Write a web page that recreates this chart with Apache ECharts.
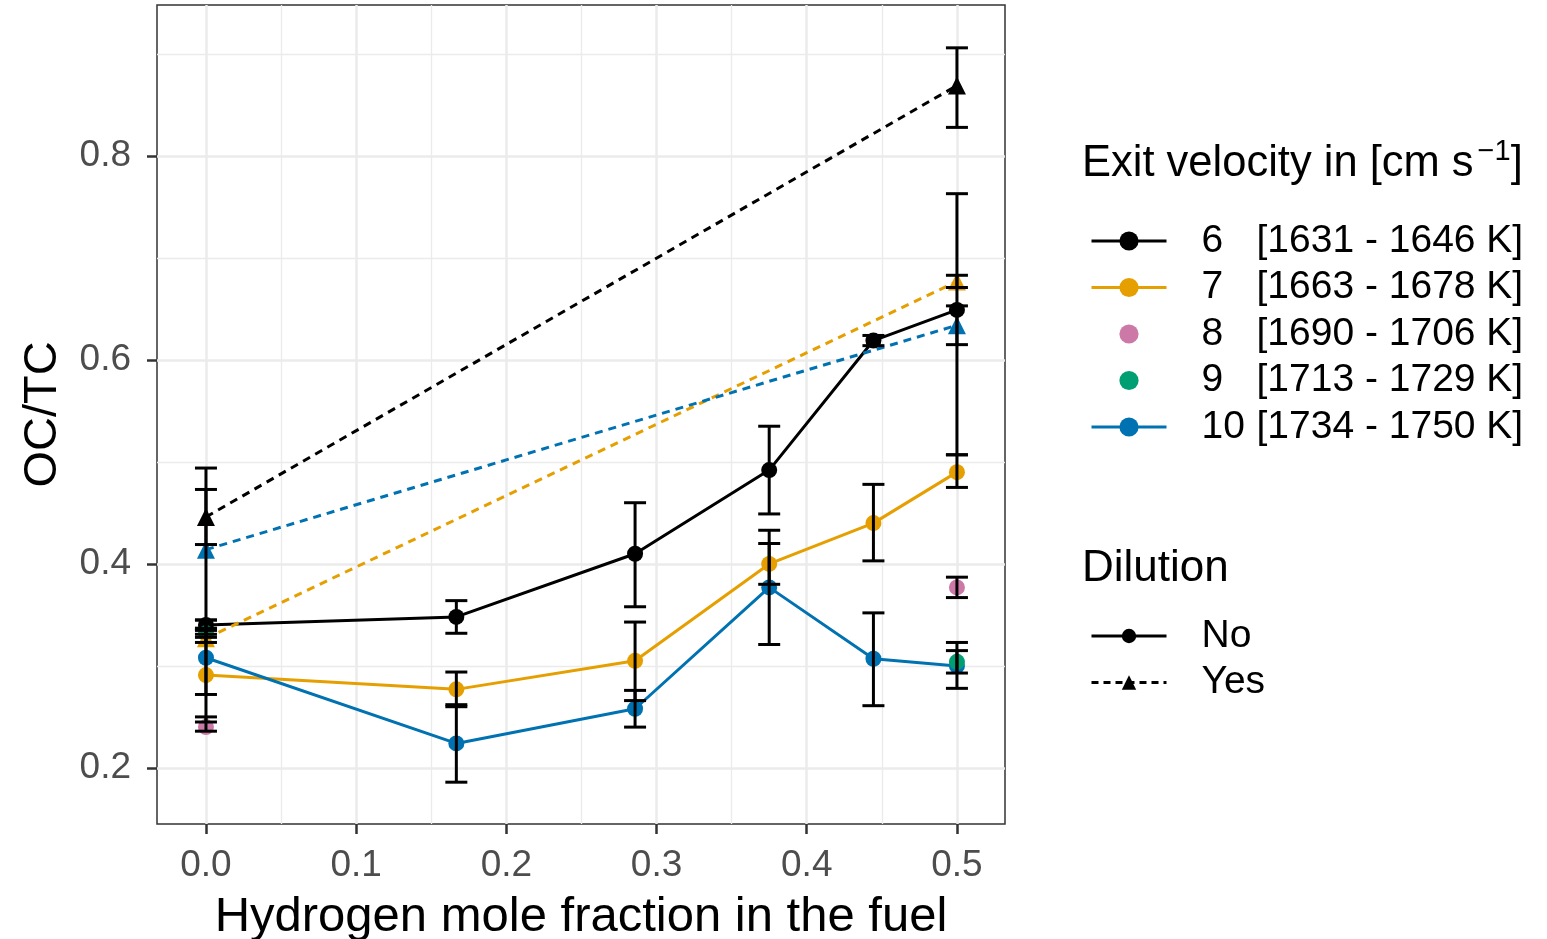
<!DOCTYPE html>
<html><head><meta charset="utf-8">
<script src="https://cdn.jsdelivr.net/npm/echarts@6/dist/echarts.min.js"></script>
<style>html,body{margin:0;padding:0;background:#fff}#c{width:1547px;height:939px}</style>
</head><body><div id="c"></div>
<script>
// ---- data ----
const xValues = [0, 0.1667, 0.2857, 0.375, 0.4444, 0.5];
const xEnds = [0, 0.5];

const v6No  = [0.340, 0.348, 0.410, 0.492, 0.619, 0.649];
const v7No  = [0.291, 0.277, 0.305, 0.400, 0.440, 0.490];
const v10No = [0.308, 0.224, 0.258, 0.377, 0.307, 0.300];
const v8    = [0.240, 0.377];
const v9    = [0.332, 0.304];
const v6Yes  = [0.446, 0.869];
const v7Yes  = [0.327, 0.677];
const v10Yes = [0.414, 0.634];

const e6No  = [[0.335,0.345],[0.332,0.364],[0.358,0.460],[0.449,0.535],[0.614,0.624],[0.507,0.763]];
const e7No  = [[0.245,0.337],[0.260,0.294],[0.266,0.343],[0.380,0.420],[0.403,0.478],[0.475,0.507]];
const e10No = [[0.272,0.345],[0.186,0.262],[0.240,0.276],[0.321,0.433],[0.261,0.352],[0.278,0.323]];
const e8    = [[0.236,0.250],[0.367,0.387]];
const e9    = [[0.328,0.336],[0.293,0.315]];
const e6Yes  = [[0.419,0.494],[0.828,0.906]];
const e7Yes  = [[0.323,0.331],[0.671,0.683]];
const e10Yes = [[0.335,0.473],[0.615,0.653]];

const xTicks = [0, 0.1, 0.2, 0.3, 0.4, 0.5];
const xMinor = [0.05, 0.15, 0.25, 0.35, 0.45];
const yTicks = [0.2, 0.4, 0.6, 0.8];
const yMinor = [0.3, 0.5, 0.7, 0.9];

const velocities = ['6', '7', '8', '9', '10'];
const tempRanges = ['[1631 - 1646 K]', '[1663 - 1678 K]', '[1690 - 1706 K]', '[1713 - 1729 K]', '[1734 - 1750 K]'];
const dilution = ['No', 'Yes'];

const colors = {'6':'#000000','7':'#E69F00','8':'#CC79A7','9':'#009E73','10':'#0072B2'};
const FONT = 'Liberation Sans, Arial, sans-serif';

function pts(xs, ys) { return xs.map((x, i) => [x, ys[i]]); }
function errs(xs, e) { return xs.map((x, i) => [x, e[i][0], e[i][1]]); }

const errData = [].concat(
  errs(xValues, e6No), errs(xValues, e7No), errs(xValues, e10No),
  errs(xEnds, e8), errs(xEnds, e9),
  errs(xEnds, e6Yes), errs(xEnds, e7Yes), errs(xEnds, e10Yes)
);

function lineSeries(name, xs, ys, color, dashed) {
  return {
    type: 'line', name: name, data: pts(xs, ys),
    symbol: dashed ? 'triangle' : 'circle', symbolSize: dashed ? 18 : 16,
    itemStyle: {color: color, opacity: 1},
    lineStyle: {color: color, width: 3, type: dashed ? [8, 6] : 'solid'},
    emphasis: {disabled: true}, z: 3
  };
}
// points only (no connecting line), drawn as a line series whose line is invisible
function pointSeries(name, xs, ys, color) {
  return {type: 'line', name: name, data: pts(xs, ys), symbol: 'circle', symbolSize: 16,
    itemStyle: {color: color, opacity: 1}, lineStyle: {color: color, width: 3, opacity: 0},
    emphasis: {disabled: true}, z: 3};
}

const legendRich = {
  sp: {width: 30, lineHeight: 40, fontSize: 39, fontFamily: FONT},
  n: {width: 55, lineHeight: 40, fontSize: 39, fontFamily: FONT, color: '#000'},
  r: {lineHeight: 40, fontSize: 39, fontFamily: FONT, color: '#000'}
};

const option = {
  animation: false,
  backgroundColor: '#fff',
  textStyle: {fontFamily: FONT},
  title: [
    {text: 'Exit velocity in [cm s{sup|\u22121}]', left: 1082, top: 137, padding: 0,
     textStyle: {fontSize: 43.5, fontWeight: 'normal', color: '#000', fontFamily: FONT, lineHeight: 54,
       rich: {sup: {fontSize: 29, verticalAlign: 'top', lineHeight: 24, color: '#000', fontFamily: FONT, padding: [0, 0, 0, 4]}}}},
    {text: 'Dilution', left: 1082, top: 542, padding: 0,
     textStyle: {fontSize: 44, fontWeight: 'normal', color: '#000', fontFamily: FONT, lineHeight: 54}}
  ],
  legend: [
    {data: velocities, orient: 'vertical', left: 1090, top: 221, padding: 0,
     itemWidth: 75, itemHeight: 24, itemGap: 6.5, selectedMode: false,
     lineStyle: {width: 3},
     formatter: function (name) {
       const i = velocities.indexOf(name);
       return '{sp| }{n|' + name + '}{r|' + tempRanges[i] + '}';
     },
     textStyle: {fontSize: 39, lineHeight: 40, color: '#000', rich: legendRich}},
    {data: dilution, orient: 'vertical', left: 1090, top: 616, padding: 0,
     itemWidth: 75, itemHeight: 18, itemGap: 6.5, selectedMode: false,
     lineStyle: {width: 3},
     formatter: function (name) { return '{sp| }{r|' + name + '}'; },
     textStyle: {fontSize: 39, lineHeight: 40, color: '#000', rich: legendRich}}
  ],
  grid: {left: 157, right: 542, top: 5, bottom: 115, show: true, borderColor: '#333333', borderWidth: 1.5,
         containLabel: false, outerBoundsMode: 'none'},
  xAxis: [
    {type: 'value', min: -0.0326, max: 0.532,
     name: 'Hydrogen mole fraction in the fuel', nameLocation: 'middle', nameGap: 69,
     nameTextStyle: {fontSize: 49, color: '#000', fontFamily: FONT},
     axisLine: {show: false, onZero: false},
     axisTick: {show: true, customValues: xTicks, length: 10, lineStyle: {color: '#333333', width: 2.5}},
     axisLabel: {customValues: xTicks, formatter: v => v.toFixed(1), fontSize: 37, color: '#4D4D4D', margin: 23, fontFamily: FONT},
     splitLine: {show: true, lineStyle: {color: '#EBEBEB', width: 2.5}}, z: 1},
    {type: 'value', min: -0.0326, max: 0.532, position: 'bottom',
     axisLine: {show: false, onZero: false}, axisTick: {show: false, customValues: xMinor},
     axisLabel: {show: false, customValues: xMinor},
     splitLine: {show: true, lineStyle: {color: '#EBEBEB', width: 1.3}}, z: 0}
  ],
  yAxis: [
    {type: 'value', min: 0.145, max: 0.948,
     name: 'OC/TC', nameLocation: 'middle', nameGap: 90,
     nameTextStyle: {fontSize: 47, color: '#000', fontFamily: FONT},
     axisLine: {show: false, onZero: false},
     axisTick: {show: true, customValues: yTicks, length: 10, lineStyle: {color: '#333333', width: 2.5}},
     axisLabel: {customValues: yTicks, formatter: v => v.toFixed(1), fontSize: 37, color: '#4D4D4D', margin: 26, fontFamily: FONT},
     splitLine: {show: true, lineStyle: {color: '#EBEBEB', width: 2.5}}, z: 1},
    {type: 'value', min: 0.145, max: 0.948, position: 'left',
     axisLine: {show: false, onZero: false}, axisTick: {show: false, customValues: yMinor},
     axisLabel: {show: false, customValues: yMinor},
     splitLine: {show: true, lineStyle: {color: '#EBEBEB', width: 1.3}}, z: 0}
  ],
  series: [
    lineSeries('6', xValues, v6No, colors['6'], false),
    lineSeries('7', xValues, v7No, colors['7'], false),
    lineSeries('10', xValues, v10No, colors['10'], false),
    pointSeries('8', xEnds, v8, colors['8']),
    pointSeries('9', xEnds, v9, colors['9']),
    lineSeries('6 diluted', xEnds, v6Yes, colors['6'], true),
    lineSeries('7 diluted', xEnds, v7Yes, colors['7'], true),
    lineSeries('10 diluted', xEnds, v10Yes, colors['10'], true),
    {type: 'line', name: 'No', data: [], symbol: 'circle', itemStyle: {color: '#000'}, lineStyle: {color: '#000', width: 3}},
    {type: 'line', name: 'Yes', data: [], symbol: 'triangle', itemStyle: {color: '#000'}, lineStyle: {color: '#000', width: 3, type: [7, 5]}},
    {type: 'custom', name: 'errorbars', z: 5, data: errData,
     encode: {x: 0, y: [1, 2]},
     renderItem: function (params, api) {
       const x = api.value(0), lo = api.value(1), hi = api.value(2);
       const a = api.coord([x, lo]), b = api.coord([x, hi]);
       const w = 11;
       const st = {stroke: '#000', lineWidth: 3, fill: null};
       return {type: 'group', children: [
         {type: 'line', shape: {x1: a[0], y1: a[1], x2: b[0], y2: b[1]}, style: st},
         {type: 'line', shape: {x1: a[0] - w, y1: a[1], x2: a[0] + w, y2: a[1]}, style: st},
         {type: 'line', shape: {x1: b[0] - w, y1: b[1], x2: b[0] + w, y2: b[1]}, style: st}
       ]};
     }}
  ]
};

const chart = echarts.init(document.getElementById('c'), null, {renderer: 'canvas'});
chart.setOption(option);
</script>
</body></html>
